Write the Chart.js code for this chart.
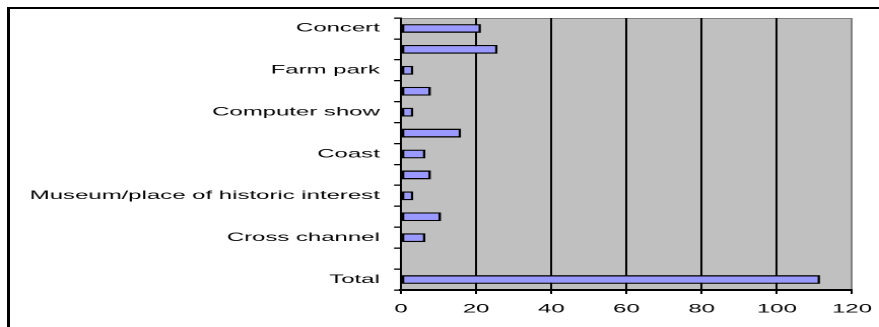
<!DOCTYPE html>
<html>
<head>
<meta charset="utf-8">
<script src="https://cdn.jsdelivr.net/npm/chart.js@4/dist/chart.umd.min.js"></script>
<style>
  html, body { margin: 0; padding: 0; background: #fff; overflow: hidden; width: 879px; height: 327px; }
  #frame { position: absolute; left: 7px; top: 7px; width: 920px; height: 400px;
           border-top: 2px solid #000; border-left: 3px solid #000; box-sizing: border-box; }
  #wrap { position: absolute; left: 0; top: 0; width: 433px; height: 327px;
          transform: scaleX(2.03); transform-origin: 0 0; }
</style>
</head>
<body>
<div id="frame"></div>
<div id="wrap"><canvas id="c" width="433" height="327"></canvas></div>
<script>
const categories = [
  "Concert", "", "Farm park", "", "Computer show", "", "Coast", "",
  "Museum/place of historic interest", "", "Cross channel", "", "Total"
];
const values = [21.3, 25.7, 3.3, 8, 3.3, 16, 6.5, 8, 3.3, 10.7, 6.5, null, 111.5];
const xTicks = [0, 20, 40, 60, 80, 100, 120];

const plotBg = {
  id: 'plotBg',
  beforeDraw(chart) {
    const { ctx, chartArea: a } = chart;
    ctx.save();
    ctx.fillStyle = '#C0C0C0';
    ctx.fillRect(a.left, a.top, a.right - a.left, a.bottom - a.top);
    ctx.strokeStyle = '#808080';
    ctx.lineWidth = 1;
    ctx.beginPath();
    ctx.moveTo(a.left, a.top + 0.5);
    ctx.lineTo(a.right, a.top + 0.5);
    ctx.stroke();
    ctx.restore();
  }
};

const FONT = { family: "'Liberation Sans', Arial, sans-serif", size: 11.8 };

new Chart(document.getElementById('c'), {
  type: 'bar',
  data: {
    labels: categories,
    datasets: [{
      data: values,
      backgroundColor: '#9999FF',
      borderColor: '#000000',
      borderWidth: 1.3,
      borderSkipped: false,
      barPercentage: 1,
      categoryPercentage: 0.42
    }]
  },
  options: {
    indexAxis: 'y',
    responsive: false,
    animation: false,
    devicePixelRatio: 2,
    layout: { padding: { top: 18, right: 13.3, left: 0, bottom: 0 } },
    plugins: { legend: { display: false }, tooltip: { enabled: false } },
    scales: {
      x: {
        type: 'linear',
        min: 0, max: 120,
        afterBuildTicks(scale) { scale.ticks = xTicks.map(v => ({ value: v })); },
        afterFit(scale) { scale.height = 37; scale.paddingRight = 0; scale.paddingLeft = 0; },
        ticks: { color: '#000', font: FONT, padding: 8, maxRotation: 0 },
        grid: {
          color: ctx => (ctx.tick && ctx.tick.value === 120) ? '#808080' : '#000000',
          tickColor: '#000000',
          lineWidth: 1,
          tickLength: 4,
          drawTicks: true
        },
        border: { color: '#000', width: 2 }
      },
      y: {
        type: 'category',
        afterFit(scale) { scale.width = 197.5; },
        ticks: { color: '#000', font: FONT, padding: 7, autoSkip: false },
        grid: {
          offset: true,
          drawOnChartArea: false,
          drawTicks: true,
          tickLength: 3.4,
          tickColor: '#000000',
          color: '#000000',
          lineWidth: 1.3
        },
        border: { color: '#000', width: 1 }
      }
    }
  },
  plugins: [plotBg]
});
</script>
</body>
</html>
